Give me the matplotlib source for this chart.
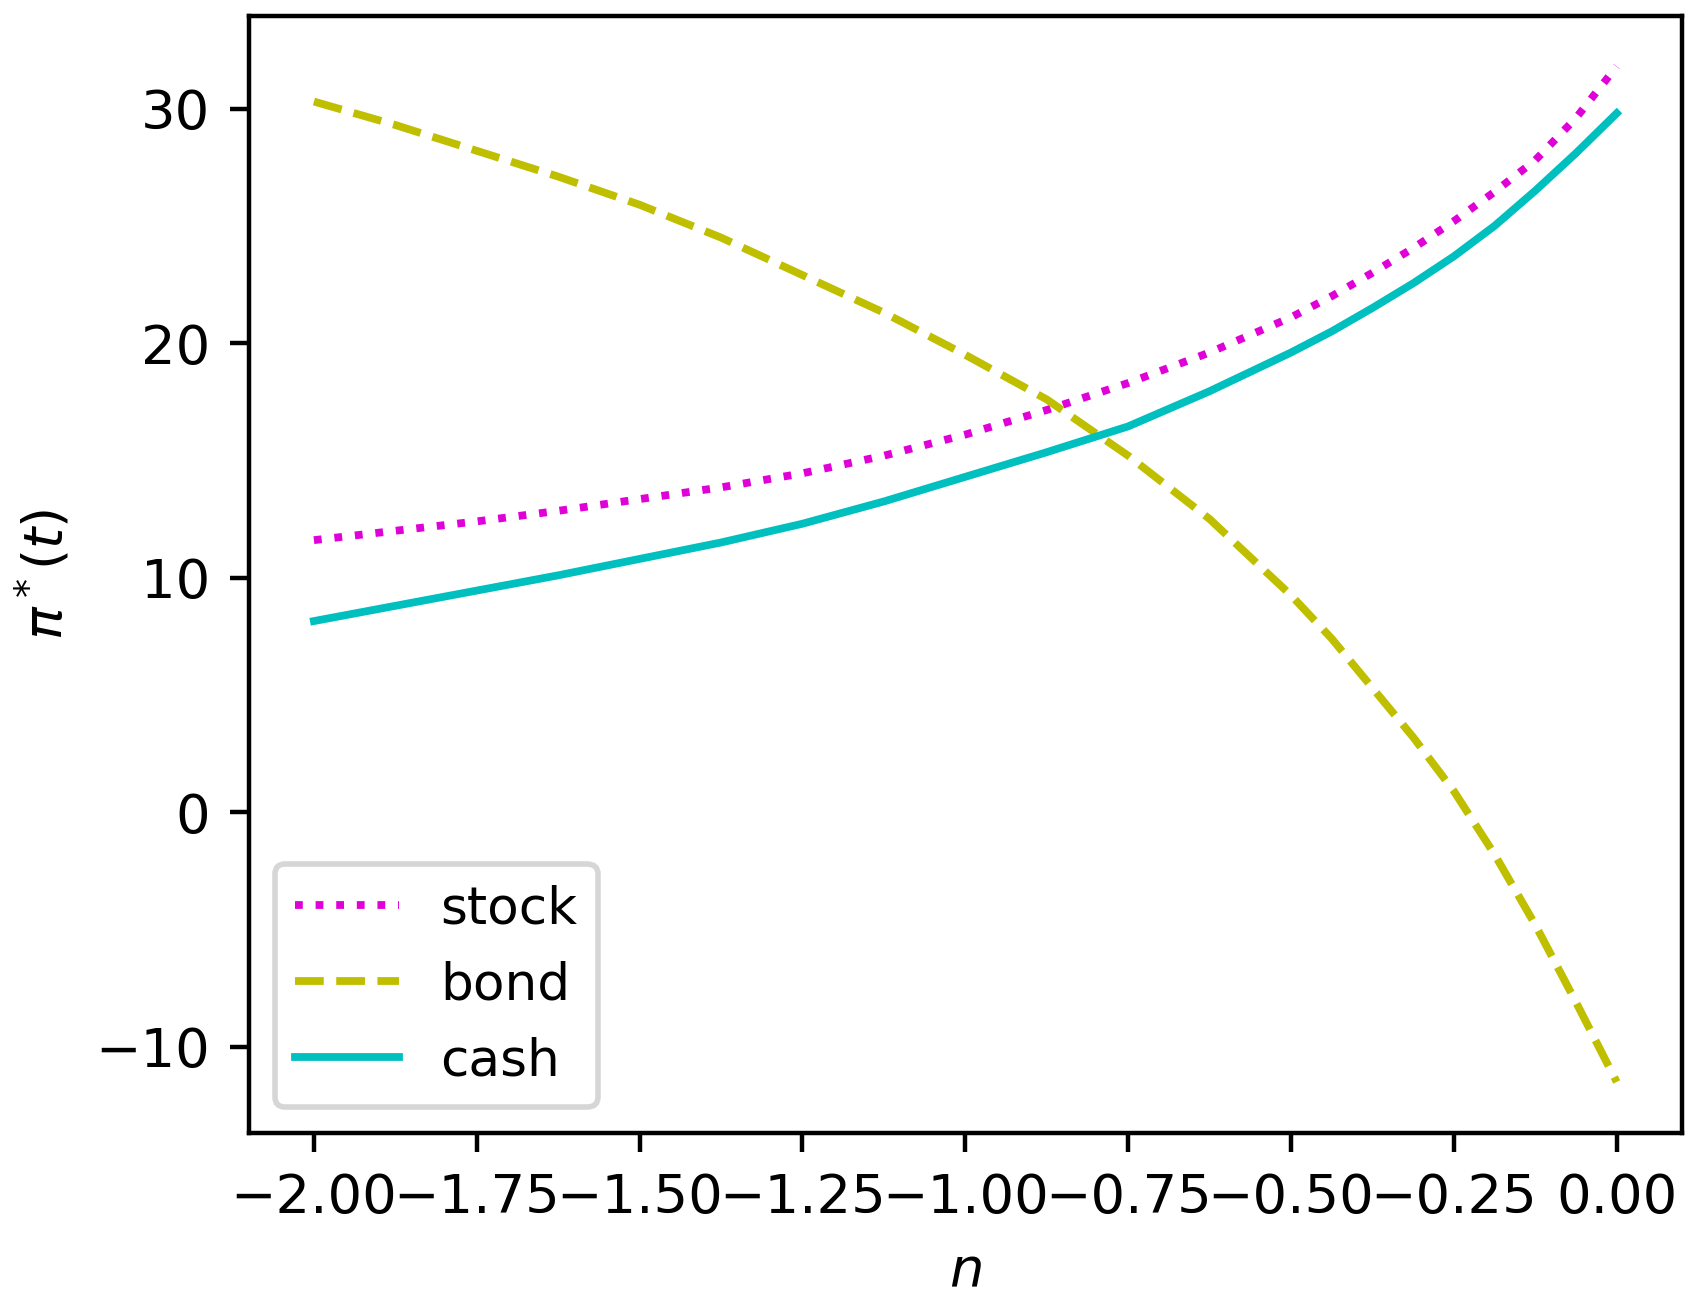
import numpy as np
import matplotlib
matplotlib.use('Agg')
import matplotlib.pyplot as plt

# values
n = [-2.0, -1.875, -1.75, -1.625, -1.5, -1.375, -1.25, -1.125, -1.0,
     -0.875, -0.75, -0.625, -0.5, -0.4375, -0.375, -0.3125, -0.25,
     -0.1875, -0.125, -0.0625, 0.0]
stock = [11.6, 12.0, 12.4, 12.85, 13.35, 13.85, 14.45, 15.2, 16.1,
         17.15, 18.3, 19.6, 21.1, 22.0, 23.0, 24.05, 25.2,
         26.45, 27.8, 29.6, 31.8]
bond = [30.3, 29.3, 28.2, 27.1, 25.9, 24.5, 22.9, 21.3, 19.5,
        17.6, 15.2, 12.5, 9.25, 7.4, 5.3, 3.2, 0.9,
        -1.8, -4.8, -8.1, -11.5]
cash = [8.15, 8.8, 9.45, 10.1, 10.8, 11.5, 12.3, 13.25, 14.3,
        15.35, 16.45, 17.95, 19.6, 20.5, 21.5, 22.55, 23.7,
        25.0, 26.5, 28.1, 29.8]

plt.rcParams['font.size'] = 9.8

fig, ax = plt.subplots(figsize=(4.26, 3.2475), dpi=400)
fig.subplots_adjust(left=0.146, right=0.987, top=0.988, bottom=0.128)

lw = 1.4
ax.plot(n, stock, ':', color='#e000d8', lw=lw, label='stock')
ax.plot(n, bond, '--', color='#bfbf00', lw=lw, label='bond')
ax.plot(n, cash, '-', color='#00bfbf', lw=lw, label='cash')

ax.set_xticks(np.arange(-2.0, 0.01, 0.25))
ax.set_xlabel('$n$')
ax.set_ylabel(r'$\pi^*(t)$')
ax.legend(loc='lower left', fontsize=9.3)

fig.savefig('out.png', dpi=400)
